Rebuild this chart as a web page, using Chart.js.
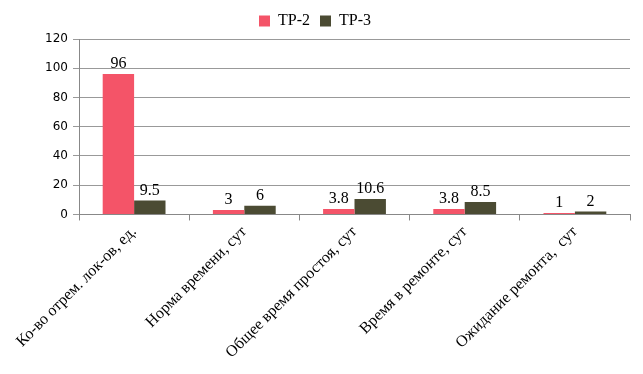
<!DOCTYPE html>
<html>
<head>
<meta charset="utf-8">
<script src="https://cdn.jsdelivr.net/npm/chart.js@4/dist/chart.umd.min.js"></script>
<style>
  html, body { margin: 0; padding: 0; background: #fff; }
  #wrap { width: 643px; height: 374px; }
</style>
</head>
<body>
<div id="wrap"><canvas id="c"></canvas></div>
<script>
const categories = [
  "Ко-во отрем. лок-ов, ед.",
  "Норма времени, сут",
  "Общее время простоя, сут",
  "Время в ремонте, сут",
  "Ожидание ремонта,  сут"
];
const tr2 = [96, 3, 3.8, 3.8, 1];
const tr3 = [9.5, 6, 10.6, 8.5, 2];

// подписи значений над столбцами
const valueLabels = {
  id: "valueLabels",
  afterDatasetsDraw(chart) {
    const ctx = chart.ctx;
    ctx.save();
    ctx.font = "16px 'Liberation Serif'";
    ctx.fillStyle = "#000";
    ctx.textAlign = "center";
    ctx.textBaseline = "bottom";
    chart.data.datasets.forEach((ds, i) => {
      chart.getDatasetMeta(i).data.forEach((bar, j) => {
        ctx.fillText(String(ds.data[j]), bar.x, bar.y - 2);
      });
    });
    ctx.restore();
  }
};

new Chart(document.getElementById("c"), {
  type: "bar",
  data: {
    labels: categories,
    datasets: [
      { label: "ТР-2", data: tr2, backgroundColor: "#F45468", categoryPercentage: 0.57, barPercentage: 1.0 },
      { label: "ТР-3", data: tr3, backgroundColor: "#4B4B33", categoryPercentage: 0.57, barPercentage: 1.0 }
    ]
  },
  options: {
    responsive: true,
    maintainAspectRatio: false,
    animation: false,
    layout: { padding: { left: 0, right: 13, top: 3, bottom: 10 } },
    plugins: {
      legend: {
        position: "top",
        labels: {
          font: { family: "'Liberation Serif'", size: 16 },
          color: "#000",
          boxWidth: 11,
          boxHeight: 11,
          padding: 10
        }
      },
      tooltip: { enabled: false }
    },
    scales: {
      x: {
        grid: { display: true, drawOnChartArea: false, offset: true, color: "#888", tickLength: 6 },
        border: { color: "#888" },
        ticks: {
          font: { family: "'Liberation Serif'", size: 16 },
          color: "#000",
          minRotation: 45,
          maxRotation: 45,
          padding: 2
        }
      },
      y: {
        min: 0,
        max: 120,
        afterFit: (s) => { s.width = 79; },
        ticks: { stepSize: 20, font: { family: "'DejaVu Sans'", size: 12 }, color: "#000", padding: 5 },
        grid: { color: "#999", tickLength: 6 },
        border: { color: "#888" }
      }
    }
  },
  plugins: [valueLabels]
});
</script>
</body>
</html>
